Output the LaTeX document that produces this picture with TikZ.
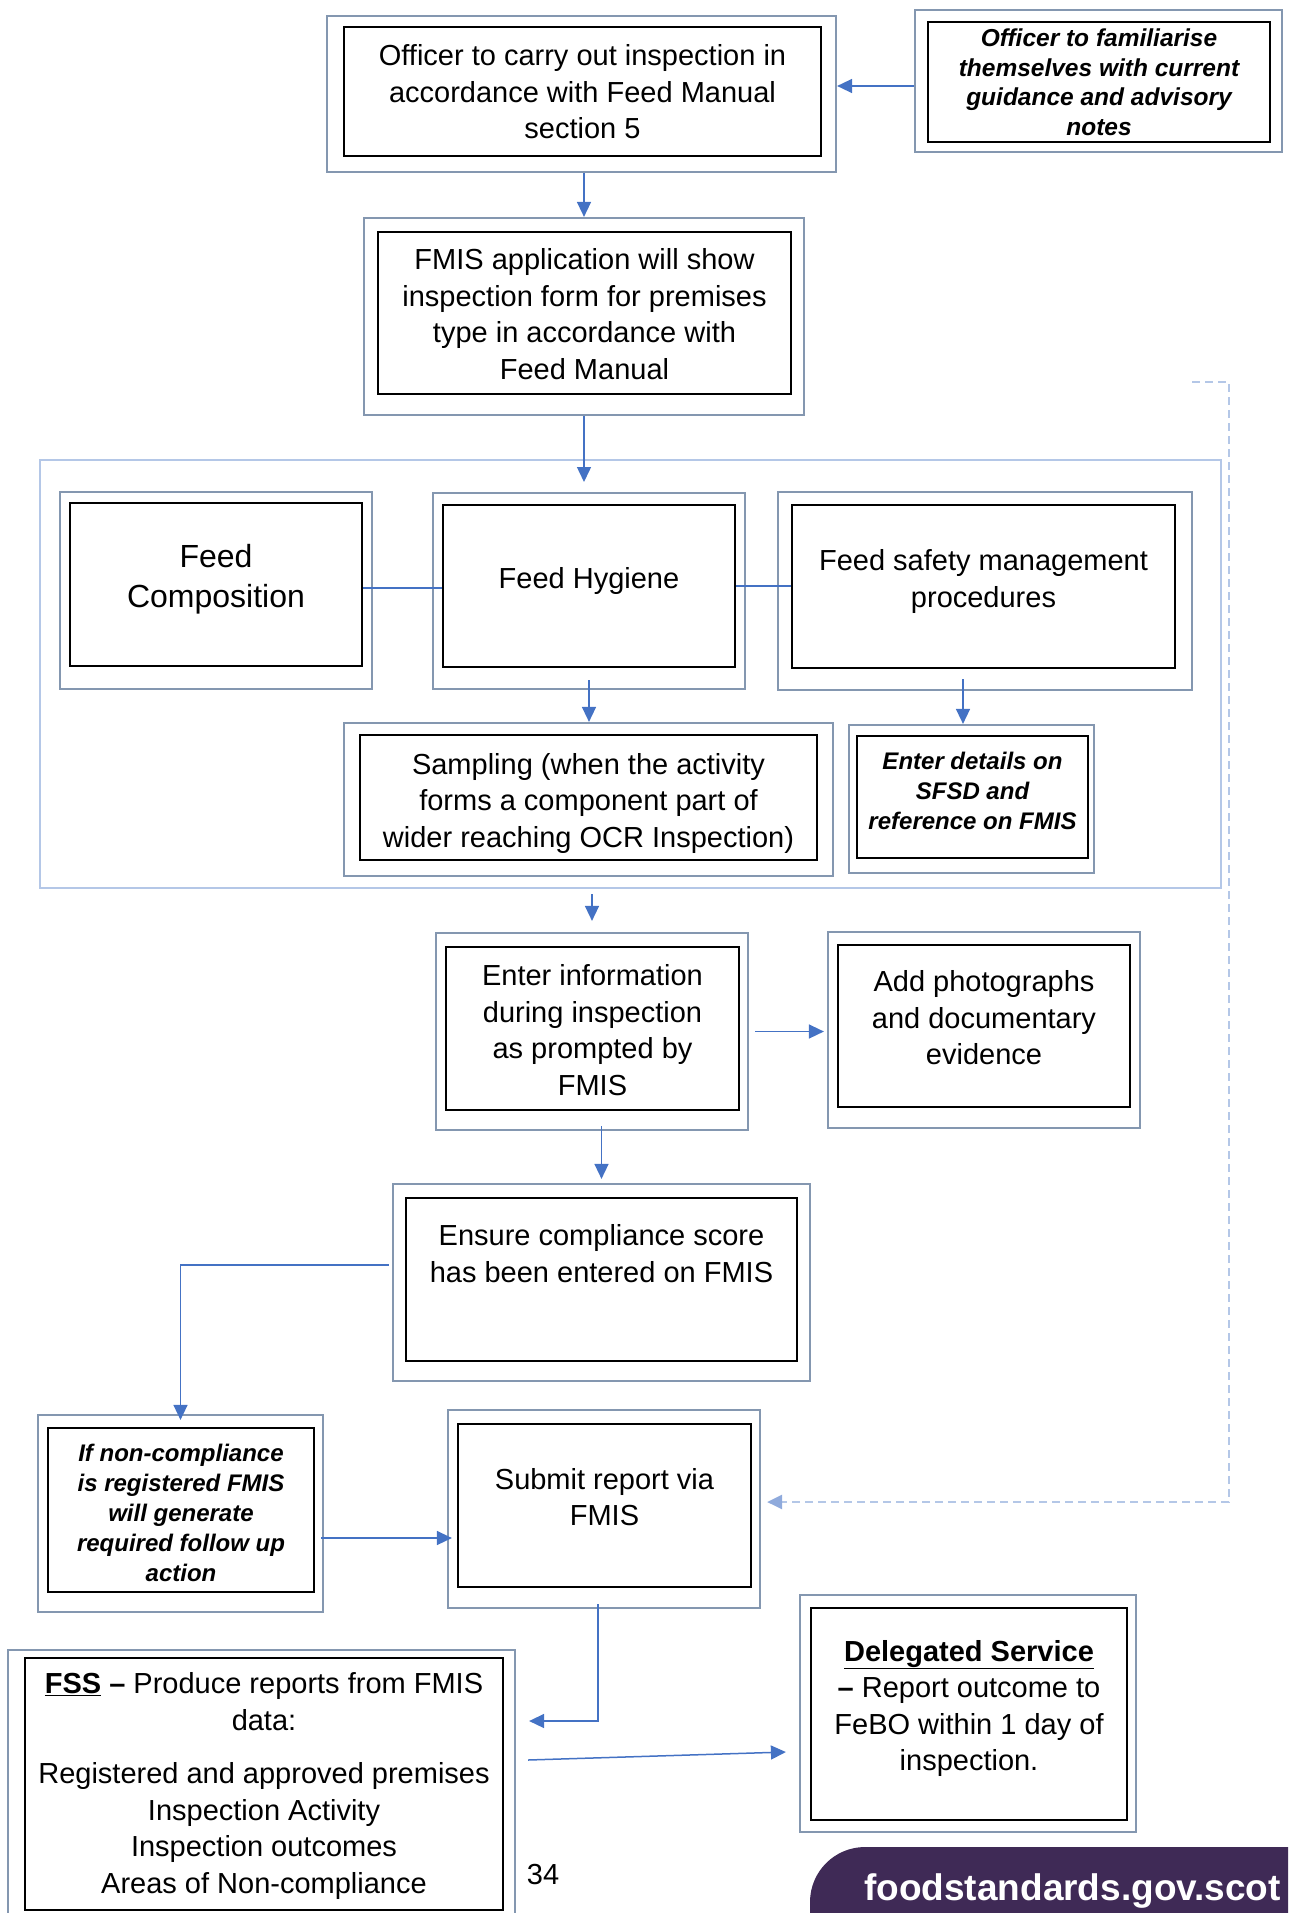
\documentclass[tikz,border=0pt]{standalone}
\usepackage{fontspec}
\setmainfont{Liberation Sans}
\usetikzlibrary{arrows.meta}
\definecolor{conncol}{HTML}{4472C4}
\definecolor{outcol}{HTML}{8497B0}
\definecolor{grpcol}{HTML}{B4C7E7}
\definecolor{dashtip}{HTML}{8FAADC}
\definecolor{fsspurple}{HTML}{3F2A56}
\newcommand\tA{\fontsize{29}{36.5}\selectfont}
\newcommand\tBig{\fontsize{32}{40}\selectfont}
\newcommand\tIt{\fontsize{24}{30}\selectfont\bfseries\itshape}
\newcommand\tItB{\fontsize{24.5}{29.5}\selectfont\bfseries\itshape}
\newcommand\lift[2]{\raisebox{#1}[\height][\depth]{\begin{tabular}{@{}c@{}}#2\end{tabular}}}
\tikzset{
  outerbox/.style={draw=outcol, line width=2.2pt, inner sep=0pt, fill=white},
  innerbox/.style={draw=black, line width=2pt, inner sep=0pt, align=center, font=\tA},
  grpbox/.style={draw=grpcol, line width=2.5pt, inner sep=0pt},
  conn/.style={draw=conncol, line width=1.5pt, -{Triangle[length=15pt,width=14pt]}},
  plainconn/.style={draw=conncol, line width=1.5pt},
  dconn/.style={draw=grpcol, line width=2.5pt, dash pattern=on 8pt off 5pt,
     -{Triangle[length=15pt,width=14pt,fill=dashtip,color=dashtip]}}
}
\begin{document}
\begin{tikzpicture}[x=1pt,y=-1pt]
\useasboundingbox (0,0) rectangle (1288,1913);
\clip (0,0) rectangle (1288,1913);

% container
\node[grpbox, minimum width=1181pt, minimum height=428pt] (grp) at (630.5,674) {};

% A
\node[outerbox, minimum width=509pt, minimum height=156pt] (oA) at (581.5,94) {};
\node[innerbox, minimum width=477pt, minimum height=129pt] (iA) at (582.5,91.5)
  {\lift{-3.7pt}{Officer to carry out inspection in\\accordance with Feed Manual\\section 5}};
% B
\node[outerbox, minimum width=367pt, minimum height=142pt] (oB) at (1098.5,81) {};
\node[innerbox, minimum width=342pt, minimum height=120pt, font=\tItB] (iB) at (1099,82)
  {\lift{-3pt}{Officer to familiarise\\themselves with current\\guidance and advisory\\notes}};
% C
\node[outerbox, minimum width=440pt, minimum height=197pt] (oC) at (584,316.5) {};
\node[innerbox, minimum width=413pt, minimum height=162pt] (iC) at (584.5,313)
  {\lift{-4.3pt}{FMIS application will show\\inspection form for premises\\type in accordance with\\Feed Manual}};
% D
\node[outerbox, minimum width=312pt, minimum height=197pt] (oD) at (216,590.5) {};
\node[innerbox, minimum width=292pt, minimum height=163pt, font=\tBig] (iD) at (216,584.5)
  {\lift{4.9pt}{Feed\\Composition}};
% E
\node[outerbox, minimum width=312pt, minimum height=196pt] (oE) at (589,591) {};
\node[innerbox, minimum width=292pt, minimum height=162pt] (iE) at (589,586)
  {\lift{4.9pt}{Feed Hygiene}};
% F
\node[outerbox, minimum width=414pt, minimum height=198pt] (oF) at (985,591) {};
\node[innerbox, minimum width=383pt, minimum height=163pt] (iF) at (983.5,586.5)
  {\lift{4.9pt}{Feed safety management\\procedures}};
% G
\node[outerbox, minimum width=489pt, minimum height=153pt] (oG) at (588.5,799.5) {};
\node[innerbox, minimum width=457pt, minimum height=125pt] (iG) at (588.5,797.5)
  {\lift{-6.1pt}{Sampling (when the activity\\forms a component part of\\wider reaching OCR Inspection)}};
% H
\node[outerbox, minimum width=245pt, minimum height=148pt] (oH) at (971.5,799) {};
\node[innerbox, minimum width=231pt, minimum height=122pt, font=\tIt] (iH) at (972.5,797)
  {\lift{3.7pt}{Enter details on\\SFSD and\\reference on FMIS}};
% I
\node[outerbox, minimum width=312pt, minimum height=197pt] (oI) at (592,1031.5) {};
\node[innerbox, minimum width=293pt, minimum height=163pt] (iI) at (592.5,1028.5)
  {\lift{-4.9pt}{Enter information\\during inspection\\as prompted by\\FMIS}};
% J
\node[outerbox, minimum width=312pt, minimum height=196pt] (oJ) at (984,1030) {};
\node[innerbox, minimum width=292pt, minimum height=162pt] (iJ) at (984,1026)
  {\lift{4.9pt}{Add photographs\\and documentary\\evidence}};
% K
\node[outerbox, minimum width=417pt, minimum height=197pt] (oK) at (601.5,1282.5) {};
\node[innerbox, minimum width=391pt, minimum height=163pt] (iK) at (601.5,1279.5)
  {\lift{23pt}{Ensure compliance score\\has been entered on FMIS}};
% L
\node[outerbox, minimum width=285pt, minimum height=197pt] (oL) at (180.5,1513.5) {};
\node[innerbox, minimum width=266pt, minimum height=164pt, font=\tIt] (iL) at (181,1510)
  {\lift{-5.5pt}{If non-compliance\\is registered FMIS\\will generate\\required follow up\\action}};
% M
\node[outerbox, minimum width=312pt, minimum height=198pt] (oM) at (604,1509) {};
\node[innerbox, minimum width=293pt, minimum height=163pt] (iM) at (604.5,1505.5)
  {\lift{5.5pt}{Submit report via\\FMIS}};
% N
\node[outerbox, minimum width=507pt, minimum height=285pt] (oN) at (261.5,1792.5) {};
\node[innerbox, minimum width=478pt, minimum height=252pt] (iN) at (264,1784)
  {\lift{-2.4pt}{\underline{\textbf{FSS}} \textbf{--} Produce reports from FMIS\\data:\\[17pt]
   Registered and approved premises\\Inspection Activity\\Inspection outcomes\\Areas of Non-compliance}};
% O
\node[outerbox, minimum width=336pt, minimum height=237pt] (oO) at (968,1713.5) {};
\node[innerbox, minimum width=316pt, minimum height=212pt] (iO) at (969,1714)
  {\lift{5.5pt}{\underline{\textbf{Delegated Service}}\\\textbf{--} Report outcome to\\FeBO within 1 day of\\inspection.}};

% footer
\fill[fsspurple] (810,1925) -- (810,1902) arc[start angle=180, end angle=270, radius=55] -- (1295,1847) -- (1295,1925) -- cycle;
\node[anchor=base east, text=white, font=\fontsize{37}{44}\selectfont\bfseries, inner sep=0pt] (web) at (1281,1900) {foodstandards.gov.scot};
\node[font=\tA, inner sep=0pt] (pg) at (543,1874) {34};

% connectors
\draw[conn] ([yshift=-5pt]oB.west) -- ([yshift=-5pt]oB.west -| oA.east);
\draw[conn] (oC.north |- oA.south) -- (oC.north);
\coordinate (cin) at (584,482);
\draw[conn] (oC.south) -- (cin);
\draw[plainconn] ([yshift=-3.5pt]iD.east) -- ([yshift=-3.5pt]iD.east -| iE.west);
\draw[plainconn] (iE.east) -- (iE.east -| iF.west);
\draw[conn] ([yshift=-12pt]iE.south) -- (iE.south |- oG.north);
\draw[conn] ([shift={(-8.5pt,-10pt)}]oH.north |- iF.south) -- ([xshift=-8.5pt]oH.north);
\draw[conn] ([yshift=-5pt]grp.south -| oI.north) -- ([yshift=11pt]oI.north);
\draw[conn] ([xshift=6pt]oI.east) -- ([xshift=-3pt]oI.east -| oJ.west);
\draw[conn] ([yshift=5pt]oI.south -| oK.north) -- ([yshift=4pt]oK.north);
\draw[conn] ([shift={(-3pt,17.5pt)}]oK.west) -| ([yshift=-6pt]oL.north);
\draw[conn] ([shift={(6pt,-28pt)}]iL.east) -- ([shift={(5pt,-28pt)}]iL.east -| oM.west);
\draw[conn] ([shift={(-6pt,5pt)}]oM.south) |- ([shift={(13pt,71.5pt)}]oN.east);
\draw[conn] ([shift={(12pt,32.5pt)}]oN.east) -- ([shift={(-13pt,-38.5pt)}]oO.west);
\coordinate (dstart) at (1192,382);
\coordinate (dcorner) at (1229,382);
\draw[dconn] (dstart) -- (dcorner) |- ([shift={(6pt,7pt)}]oM.east);
\end{tikzpicture}
\end{document}
